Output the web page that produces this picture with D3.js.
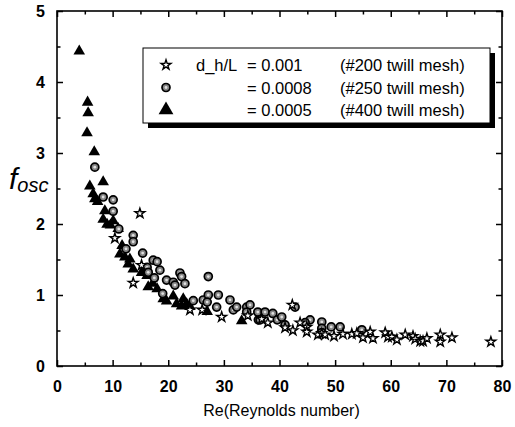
<!DOCTYPE html>
<html>
<head>
<meta charset="utf-8">
<script src="https://cdn.jsdelivr.net/npm/d3@7"></script>
<style>
  body { margin: 0; background: #fff; }
  text { font-family: "Liberation Sans", Arial, sans-serif; }
</style>
</head>
<body>
<div class="chart"></div>
<script>
// data: [Re, f_osc]
var mesh200 = [ // d_h/L = 0.001
  [10.4,1.8],[13.7,1.17],[15.2,1.42],[14.9,2.15],[23.9,0.79],[26.1,0.79],[29.6,0.69],
  [34.3,0.71],[36.8,0.66],[37.9,0.61],[41,0.54],[42.4,0.5],[42.3,0.86],[43.7,0.61],
  [44.9,0.55],[44.9,0.48],[46.9,0.44],[47.6,0.46],[48.2,0.44],[49.8,0.42],[51.4,0.45],
  [53,0.45],[53.9,0.46],[55,0.4],[56.3,0.48],[56.8,0.39],[59,0.47],[59.5,0.41],
  [60.2,0.41],[61.1,0.37],[62.6,0.44],[64,0.42],[64.4,0.38],[65.3,0.35],[65.8,0.35],
  [66.5,0.39],[68.9,0.44],[68.9,0.34],[71,0.4],[78,0.34]
];
var mesh250 = [ // d_h/L = 0.0008
  [6.8,2.8],[8.3,2.38],[10.1,2.34],[10.1,2.18],[11.1,1.93],[13.7,1.84],[13.7,1.75],
  [12.4,1.65],[15.4,1.59],[17.3,1.49],[18,1.47],[18.5,1.35],[16.2,1.39],[16.4,1.32],
  [17.5,1.24],[19.7,1.21],[20.9,1.18],[22.1,1.31],[22.4,1.26],[21.2,1.14],[23,1.16],
  [27.2,1.26],[26.3,0.93],[27.2,1.0],[27,0.9],[29,1.0],[28.7,0.83],[31.1,0.93],
  [31.7,0.79],[32.3,0.83],[34.1,0.83],[34.7,0.86],[34.1,0.76],[36.2,0.65],[36.1,0.76],
  [37.4,0.76],[38.8,0.74],[36.5,0.65],[39.6,0.65],[40.4,0.69],[41,0.58],[42.8,0.83],
  [45.5,0.65],[44.6,0.61],[47.6,0.62],[47.6,0.53],[49.3,0.55],[50.9,0.55],[54.8,0.51],
  [47.6,0.47],[24.5,0.92],[19,1.02]
];
var mesh400 = [ // d_h/L = 0.0005
  [4,4.42],[5.5,3.7],[5.6,3.55],[5.4,3.27],[6.7,3.0],[5.9,2.52],[8.3,2.58],[6.5,2.41],
  [6.8,2.34],[7.3,2.3],[8.6,2.17],[8.3,2.05],[9,1.98],[10.1,2.03],[11,1.92],[9.6,1.97],
  [11.7,1.68],[11.3,1.56],[12.2,1.52],[13.1,1.49],[13.7,1.35],[12.8,1.42],[16.2,1.26],
  [15.2,1.3],[16.4,1.1],[17.2,1.15],[18,1.07],[19.1,0.93],[19.7,0.9],[20.9,0.97],
  [21.5,0.86],[22.4,0.83],[23.3,0.86],[23.9,0.82],[22.7,0.93],[27,0.75],[33.2,0.62]
];
var xTicks = [0, 10, 20, 30, 40, 50, 60, 70, 80];
var yTicks = [0, 1, 2, 3, 4, 5];
var legendRows = [
  {label: "d_h/L", value: "= 0.001", mesh: "(#200 twill mesh)"},
  {label: "", value: "= 0.0008", mesh: "(#250 twill mesh)"},
  {label: "", value: "= 0.0005", mesh: "(#400 twill mesh)"}
];

var W = 515, H = 427;
var margin = {top: 11, right: 13, bottom: 61, left: 57};
var width = W - margin.left - margin.right,
    height = H - margin.top - margin.bottom;

var svg = d3.select(".chart").append("svg")
    .attr("width", W).attr("height", H);
var g = svg.append("g")
    .attr("transform", "translate(" + margin.left + "," + margin.top + ")");

var x = d3.scaleLinear().domain([0, 80]).range([0, width]);
var y = d3.scaleLinear().domain([0, 5]).range([height, 0]);

// frame
g.append("rect").attr("width", width).attr("height", height)
  .attr("fill", "none").attr("stroke", "#000").attr("stroke-width", 1.6);

// ticks, all pointing inward: [axis, transform, scale, values, length, labels?]
var xMinor = d3.range(5, 80, 10), yMinor = d3.range(0.5, 5, 1);
[[d3.axisBottom, "translate(0," + height + ")", x, xTicks, 6, true],
 [d3.axisBottom, "translate(0," + height + ")", x, xMinor, 3.5, false],
 [d3.axisTop, null, x, xTicks, 6, false],
 [d3.axisTop, null, x, xMinor, 3.5, false],
 [d3.axisLeft, null, y, yTicks, 6, true],
 [d3.axisLeft, null, y, yMinor, 3.5, false],
 [d3.axisRight, "translate(" + width + ",0)", y, yTicks, 6, false],
 [d3.axisRight, "translate(" + width + ",0)", y, yMinor, 3.5, false]
].forEach(function(a) {
  var ax = a[0](a[2]).tickValues(a[3]).tickFormat(d3.format("d"))
    .tickSizeInner(-a[4]).tickSizeOuter(0)
    .tickPadding(a[0] === d3.axisBottom ? 15 : 12);
  var sel = g.append("g").attr("transform", a[1]).call(ax);
  sel.select(".domain").remove();
  sel.selectAll("line").attr("stroke", "#000").attr("stroke-width", 1.5);
  if (!a[5]) sel.selectAll("text").remove();
  else sel.selectAll("text").attr("font-size", 16).attr("font-weight", "bold").attr("fill", "#000")
    .attr("font-family", "'Liberation Sans', Arial, sans-serif");
});

// marks
var star = d3.symbol().type(d3.symbolStar).size(30);
var tri = d3.symbol().type(d3.symbolTriangle).size(58);
var circ = d3.symbol().type(d3.symbolCircle).size(50);

function drawCircles(data) {
  var s = g.append("g").selectAll("g").data(data).join("g")
    .attr("transform", function(d) { return "translate(" + x(d[0]) + "," + y(d[1]) + ")"; });
  s.append("path").attr("d", circ).attr("fill", "#858585").attr("stroke", "#000").attr("stroke-width", 1.7);
  s.append("circle").attr("r", 1.4).attr("fill", "#e0e0e0");
}
g.append("g").selectAll("path").data(mesh400).join("path")
  .attr("transform", function(d) { return "translate(" + x(d[0]) + "," + (y(d[1]) - 1) + ")"; })
  .attr("d", tri).attr("fill", "#000");
drawCircles(mesh250);
g.append("g").selectAll("path").data(mesh200).join("path")
  .attr("transform", function(d) { return "translate(" + x(d[0]) + "," + y(d[1]) + ")"; })
  .attr("d", star).attr("fill", "#fff").attr("stroke", "#000").attr("stroke-width", 1.4);

// legend with drop shadow
var lg = svg.append("g").attr("transform", "translate(143,48)");
lg.append("rect").attr("x", 5).attr("y", 5).attr("width", 347).attr("height", 75).attr("fill", "#000");
lg.append("rect").attr("width", 347).attr("height", 75).attr("fill", "#fff").attr("stroke", "#000").attr("stroke-width", 1);
legendRows.forEach(function(r, i) {
  var cy = 17 + i * 22.5;
  var p = lg.append("path").attr("transform", "translate(23," + cy + ")");
  if (i === 0) p.attr("d", star()).attr("fill", "#fff").attr("stroke", "#000").attr("stroke-width", 1.4);
  if (i === 1) {
    p.attr("d", circ()).attr("fill", "#858585").attr("stroke", "#000").attr("stroke-width", 1.7);
    lg.append("circle").attr("cx", 23).attr("cy", cy).attr("r", 1.4).attr("fill", "#e0e0e0");
  }
  if (i === 2) p.attr("d", d3.symbol().type(d3.symbolTriangle).size(95)()).attr("fill", "#000");
  lg.append("text").attr("x", 53).attr("y", cy + 6).attr("font-size", 16.5).text(r.label);
  lg.append("text").attr("x", 104).attr("y", cy + 6).attr("font-size", 16.5).text(r.value);
  lg.append("text").attr("x", 197).attr("y", cy + 6).attr("font-size", 16.5).text(r.mesh);
});

// axis titles
svg.append("text").attr("x", margin.left + width / 2 + 2).attr("y", 416)
  .attr("text-anchor", "middle").attr("font-size", 16).text("Re(Reynolds number)");
var yl = svg.append("text").attr("x", 9).attr("y", 189)
  .attr("font-family", "'Liberation Serif', 'Times New Roman', serif").attr("font-style", "italic");
yl.append("tspan").attr("font-size", 30).text("f");
yl.append("tspan").attr("font-size", 20).attr("dy", 3).text("osc");
</script>
</body>
</html>
